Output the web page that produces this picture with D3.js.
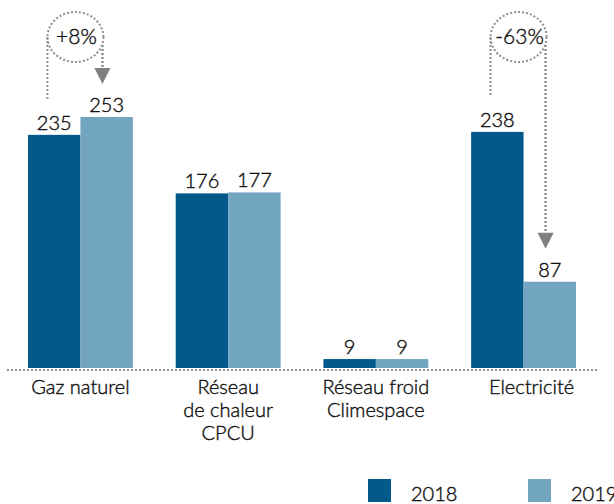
<!DOCTYPE html>
<html>
<head>
<meta charset="utf-8">
<script src="https://cdn.jsdelivr.net/npm/d3@7"></script>
<style>
    body { margin: 0; background: #fff; }
    svg { display: block; font-family: Lato, 'Open Sans', sans-serif; font-weight: 300; }
    svg text { stroke: #111; stroke-width: 0.4px; }
</style>
</head>
<body>
<div id="chart"></div>
<script>
//Datos
const categories = ['Gaz naturel', 'Réseau de chaleur CPCU', 'Réseau froid Climespace', 'Electricité'];
const categoryLines = [['Gaz naturel'], ['Réseau', 'de chaleur', 'CPCU'], ['Réseau froid', 'Climespace'], ['Electricité']];
const years = ['2018', '2019'];
const values2018 = [235, 176, 9, 238];
const values2019 = [253, 177, 9, 87];
const changes = [{cat: 'Gaz naturel', label: '+8%'}, {cat: 'Electricité', label: '-63%'}];

//Colores fijos
const COLOR_2018 = '#03598a',
COLOR_2019 = '#72a5c0',
COLOR_DOTS = '#8f8f8f',
FONT = "Lato, 'Open Sans', sans-serif";

let width = 614, height = 504;

let svg = d3.select('#chart')
    .append('svg')
        .attr('width', width)
        .attr('height', height);

let data = categories.map(function(c, i) {
    return {cat: c, values: [values2018[i], values2019[i]]};
});

// X
let x = d3.scaleBand()
    .domain(categories)
    .range([28, 576])
    .paddingInner(0.29)
    .paddingOuter(0);

let xSub = d3.scaleBand()
    .domain(years)
    .range([0, x.bandwidth()])
    .padding(0);

// Y
let y = d3.scaleLinear()
    .domain([0, 253])
    .range([368, 117]);

let colors = d3.scaleOrdinal().domain(years).range([COLOR_2018, COLOR_2019]);

// Línea base punteada
svg.append('line')
    .attr('x1', 7)
    .attr('x2', 598)
    .attr('y1', y(0) + 2)
    .attr('y2', y(0) + 2)
    .attr('stroke', COLOR_DOTS)
    .attr('stroke-width', 2)
    .attr('stroke-dasharray', '2,2');

// Barras
let groups = svg.selectAll('.group')
    .data(data)
    .enter()
    .append('g')
    .attr('class', 'group')
    .attr('transform', function(d) { return 'translate(' + x(d.cat) + ',0)'; });

groups.selectAll('rect')
    .data(function(d) { return years.map(function(yr, i) { return {year: yr, value: d.values[i]}; }); })
    .enter()
    .append('rect')
    .attr('x', function(d) { return xSub(d.year); })
    .attr('width', xSub.bandwidth())
    .attr('y', function(d) { return y(d.value); })
    .attr('height', function(d) { return y(0) - y(d.value); })
    .attr('fill', function(d) { return colors(d.year); });

groups.selectAll('.value')
    .data(function(d) { return years.map(function(yr, i) { return {year: yr, value: d.values[i]}; }); })
    .enter()
    .append('text')
    .attr('class', 'value')
    .attr('x', function(d) { return xSub(d.year) + xSub.bandwidth() / 2; })
    .attr('y', function(d) { return y(d.value) - 5; })
    .attr('text-anchor', 'middle')
    .attr('font-size', 20)
    .attr('fill', '#111')
    .text(function(d) { return d.value; });

// Etiquetas del eje X
let xAxis = function(g) {
    g.call(d3.axisBottom(x).tickSize(0).tickFormat(''));
    g.attr('font-family', FONT);
    g.call(function(g) { g.select('.domain').remove(); });
    g.selectAll('.tick').each(function(d, i) {
        let t = d3.select(this).append('text')
            .attr('fill', '#111')
            .attr('font-size', 20)
            .attr('text-anchor', 'middle');
        categoryLines[i].forEach(function(line, j) {
            t.append('tspan')
                .attr('x', d == 'Electricité' ? 8 : 0)
                .attr('y', 26 + j * 23)
                .text(line);
        });
    });
};

svg.append('g')
    .attr('transform', 'translate(0,' + y(0) + ')')
    .call(xAxis);

// Anotaciones de variación
let rx = 28, ry = 25, cy = 37;
changes.forEach(function(c) {
    let i = categories.indexOf(c.cat);
    let cx = x(c.cat) + x.bandwidth() / 2 - 5;
    let v0 = values2018[i], v1 = values2019[i];
    let g = svg.append('g');

    g.append('ellipse')
        .attr('cx', cx).attr('cy', cy)
        .attr('rx', rx).attr('ry', ry)
        .attr('fill', 'none')
        .attr('stroke', COLOR_DOTS)
        .attr('stroke-width', 2)
        .attr('stroke-dasharray', '2,2');

    g.append('line')
        .attr('x1', cx - rx).attr('x2', cx - rx)
        .attr('y1', cy).attr('y2', y(v0) - 35)
        .attr('stroke', COLOR_DOTS)
        .attr('stroke-width', 2)
        .attr('stroke-dasharray', '2,2');

    let tip = y(v1) - 33;
    g.append('line')
        .attr('x1', cx + rx - 1).attr('x2', cx + rx - 1)
        .attr('y1', cy + 8).attr('y2', tip - 14)
        .attr('stroke', COLOR_DOTS)
        .attr('stroke-width', 2.5)
        .attr('stroke-dasharray', '2,2');

    g.append('path')
        .attr('d', 'M' + (cx + rx - 9) + ',' + (tip - 16) + 'L' + (cx + rx + 7) + ',' + (tip - 16) + 'L' + (cx + rx - 1) + ',' + tip + 'Z')
        .attr('fill', '#808080');

    g.append('text')
        .attr('x', cx + 1).attr('y', cy + 7)
        .attr('text-anchor', 'middle')
        .attr('font-size', 21)
        .attr('fill', '#111')
        .text(c.label);
});

// Leyenda
let legend = svg.append('g')
    .selectAll('g')
    .data(years)
    .enter()
    .append('g')
    .attr('transform', function(d, i) { return 'translate(' + (368 + i * 160) + ',479)'; });

legend.append('rect')
    .attr('width', 23)
    .attr('height', 23)
    .attr('fill', function(d) { return colors(d); });

legend.append('text')
    .attr('x', 43)
    .attr('y', 22)
    .attr('font-size', 20)
    .attr('fill', '#111')
    .text(function(d) { return d; });
</script>
</body>
</html>
